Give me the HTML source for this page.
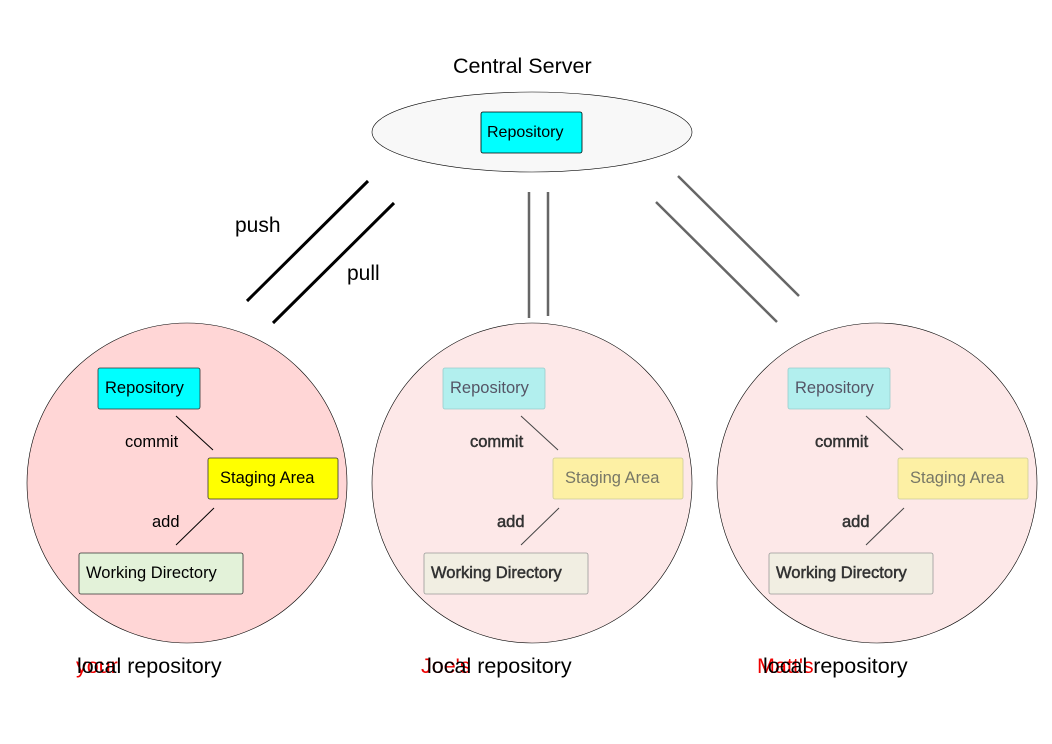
<!DOCTYPE html>
<html><head><meta charset="utf-8"><style>
html,body{margin:0;padding:0;background:#fff;}
svg{display:block;font-family:"Liberation Sans",Arial,sans-serif;}
</style></head><body>
<svg width="1052" height="744" viewBox="0 0 1052 744" xmlns="http://www.w3.org/2000/svg">
<text x="453" y="73" font-size="21.5" fill="#000">Central Server</text>
<ellipse cx="532" cy="132" rx="160" ry="40" fill="#f8f8f8" stroke="#000" stroke-width="0.6"/>
<rect x="481" y="112" width="101" height="41" rx="2" fill="#00ffff" stroke="#000" stroke-width="0.8"/>
<text x="487" y="137" font-size="16">Repository</text>

<g stroke="#000" stroke-width="3">
<line x1="368" y1="181" x2="247" y2="301"/><line x1="394" y1="203" x2="273" y2="323"/>
</g>
<text x="235" y="232" font-size="21">push</text>
<text x="347" y="280" font-size="21">pull</text>
<g stroke="#666" stroke-width="2.5">
<line x1="529" y1="192" x2="529" y2="318"/><line x1="548" y1="192" x2="548" y2="316"/>
<line x1="678" y1="176" x2="799" y2="296"/><line x1="656" y1="202" x2="777" y2="322"/>
</g>

<!-- left -->
<circle cx="187" cy="483" r="160" fill="#ffd6d6" stroke="#000" stroke-width="0.6"/>
<rect x="98" y="368" width="102" height="41" rx="2" fill="#00ffff" stroke="#333" stroke-width="0.8"/>
<text x="105" y="393" font-size="16.5">Repository</text>
<rect x="208" y="458" width="130" height="41" rx="2" fill="#ffff00" stroke="#333" stroke-width="0.8"/>
<text x="220" y="483" font-size="16.5">Staging Area</text>
<rect x="79" y="553" width="164" height="41" rx="2" fill="#e3f2d9" stroke="#333" stroke-width="0.8"/>
<text x="86" y="578" font-size="16.5">Working Directory</text>
<line x1="176" y1="416" x2="213" y2="450" stroke="#000" stroke-width="1"/>
<line x1="214" y1="508" x2="176" y2="545" stroke="#000" stroke-width="1"/>
<text x="125" y="447" font-size="16.5">commit</text>
<text x="152" y="527" font-size="16.5">add</text>

<!-- middle & right -->
<g id="m">
<circle cx="532" cy="483" r="160" fill="#fde8e8" stroke="#000" stroke-width="0.6"/>
<rect x="443" y="368" width="102" height="41" rx="2" fill="#b2efee" stroke="#9cc" stroke-width="0.8"/>
<text x="450" y="393" font-size="16.5" fill="#556">Repository</text>
<rect x="553" y="458" width="130" height="41" rx="2" fill="#fdf0a4" stroke="#cc9" stroke-width="0.8"/>
<text x="565" y="483" font-size="16.5" fill="#776">Staging Area</text>
<rect x="424" y="553" width="164" height="41" rx="2" fill="#f1eee2" stroke="#999" stroke-width="0.8"/>
<text x="431" y="578" font-size="16.5" fill="#333" stroke="#333" stroke-width="0.5">Working Directory</text>
<line x1="521" y1="416" x2="558" y2="450" stroke="#444" stroke-width="1"/>
<line x1="559" y1="508" x2="521" y2="545" stroke="#444" stroke-width="1"/>
<text x="470" y="447" font-size="16.5" fill="#333" stroke="#333" stroke-width="0.5">commit</text>
<text x="497" y="527" font-size="16.5" fill="#333" stroke="#333" stroke-width="0.5">add</text>
</g>
<use href="#m" x="345" y="0"/>

<text x="76" y="673" font-size="21.5" fill="#e00">your</text>
<text x="77" y="673" font-size="21.5" fill="#000">local repository</text>
<text x="421" y="673" font-size="21.5" fill="#e00">Joe's</text>
<text x="427" y="673" font-size="21.5" fill="#000">local repository</text>
<text x="757" y="673" font-size="21.5" fill="#e00">Matt's</text>
<text x="763" y="673" font-size="21.5" fill="#000">local repository</text>
</svg>
</body></html>
